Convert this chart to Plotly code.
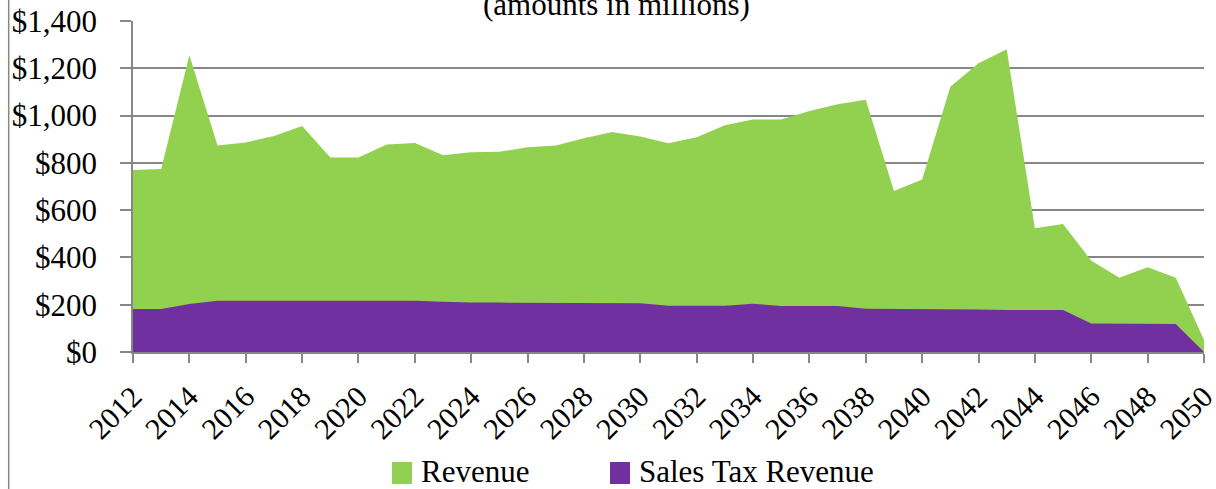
import plotly.graph_objects as go

years = list(range(2012, 2051))
revenue = [770, 774, 1255, 873, 886, 914, 956, 823, 823, 878, 884, 832, 845, 847, 866, 873,
           904, 930, 911, 883, 908, 959, 983, 983, 1019, 1048, 1067, 681, 730, 1122, 1221,
           1280, 523, 541, 386, 314, 358, 314, 51]
sales_tax = [182, 182, 203, 217, 217, 217, 217, 217, 217, 217, 217, 213, 209, 209, 209, 209,
             209, 209, 206, 196, 196, 196, 204, 195, 195, 195, 183, 183, 183, 181, 180,
             178, 178, 178, 121, 121, 119, 118, 0]
y_ticks = [0, 200, 400, 600, 800, 1000, 1200, 1400]
y_labels = ["$0", "$200", "$400", "$600", "$800", "$1,000", "$1,200", "$1,400"]
x_ticks = list(range(2012, 2051, 2))
series_names = ["Revenue", "Sales Tax Revenue"]
colors = ["#92D050", "#7030A0"]

FONT = "Garamond, 'Liberation Serif', 'DejaVu Serif', serif"
GRID = "#878787"

L, R, T, B, W, H = 133, 12, 21, 137, 1216, 489
PW, PH = W - L - R, H - T - B


def px(x):
    return (x - L) / PW


def py(y):
    return (H - B - y) / PH


fig = go.Figure()
for name, vals, col in zip(series_names, [revenue, sales_tax], colors):
    fig.add_trace(go.Scatter(x=years, y=vals, name=name, mode="lines",
                             line=dict(width=0, color=col), fill="tozeroy",
                             fillcolor=col, showlegend=False))

shapes = [dict(type="line", xref="paper", yref="paper", x0=px(8.7), x1=px(8.7),
               y0=py(489), y1=py(0), line=dict(color=GRID, width=1.5))]
annotations = [dict(text="(amounts in millions)", xref="paper", yref="paper",
                    x=px(616), y=1.0, xanchor="center", yanchor="bottom",
                    yshift=-3, showarrow=False, font=dict(size=31))]

# manual legend
leg_x = [392, 610]
for lx, name, col in zip(leg_x, series_names, colors):
    shapes.append(dict(type="rect", xref="paper", yref="paper",
                       x0=px(lx), x1=px(lx + 20), y0=py(484), y1=py(462),
                       fillcolor=col, line=dict(width=0)))
    annotations.append(dict(text=name, xref="paper", yref="paper",
                            x=px(lx + 27), y=py(471), xanchor="left", yanchor="middle",
                            showarrow=False, font=dict(size=31)))

fig.update_layout(
    width=W, height=H,
    margin=dict(l=L, r=R, t=T, b=B),
    paper_bgcolor="white", plot_bgcolor="white",
    font=dict(family=FONT, size=31, color="black"),
    showlegend=False,
    xaxis=dict(range=[2012, 2050], tickmode="array", tickvals=x_ticks,
               ticktext=[str(v) for v in x_ticks], tickangle=-45,
               showgrid=False, showline=True, linecolor=GRID, linewidth=2,
               ticks="outside", ticklen=9, tickcolor=GRID, tickwidth=1.5,
               tickfont=dict(size=30), zeroline=False, automargin=False,
               ticklabeloverflow="allow", ticklabelstandoff=4),
    yaxis=dict(range=[0, 1400], tickmode="array", tickvals=y_ticks, ticktext=y_labels,
               showgrid=True, gridcolor=GRID, gridwidth=1.5,
               showline=True, linecolor=GRID, linewidth=1.5,
               ticks="outside", ticklen=11, tickcolor=GRID, tickwidth=1.5,
               zeroline=False, layer="below traces", automargin=False,
               ticklabelstandoff=17, ticklabeloverflow="allow"),
    annotations=annotations,
    shapes=shapes,
)

fig.write_html("out.html", config={"displayModeBar": False},
               post_script="document.body.style.margin='0';document.body.style.overflow='hidden';")
